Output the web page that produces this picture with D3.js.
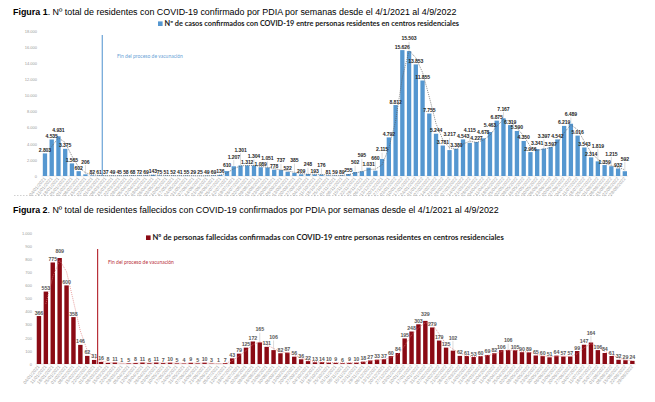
<!DOCTYPE html>
<html><head><meta charset="utf-8">
<script src="https://cdn.jsdelivr.net/npm/d3@7"></script>
<style>body{margin:0;background:#fff}svg{display:block}</style>
</head><body>
<script>
const weeks = ["04/01/2021","11/01/2021","18/01/2021","25/01/2021","01/02/2021","08/02/2021","15/02/2021","22/02/2021","01/03/2021","08/03/2021","15/03/2021","22/03/2021","29/03/2021","05/04/2021","12/04/2021","19/04/2021","26/04/2021","03/05/2021","10/05/2021","17/05/2021","24/05/2021","31/05/2021","07/06/2021","14/06/2021","21/06/2021","28/06/2021","05/07/2021","12/07/2021","19/07/2021","26/07/2021","02/08/2021","09/08/2021","16/08/2021","23/08/2021","30/08/2021","06/09/2021","13/09/2021","20/09/2021","27/09/2021","04/10/2021","11/10/2021","18/10/2021","25/10/2021","01/11/2021","08/11/2021","15/11/2021","22/11/2021","29/11/2021","06/12/2021","13/12/2021","20/12/2021","27/12/2021","03/01/2022","10/01/2022","17/01/2022","24/01/2022","31/01/2022","07/02/2022","14/02/2022","21/02/2022","28/02/2022","07/03/2022","14/03/2022","21/03/2022","28/03/2022","04/04/2022","11/04/2022","18/04/2022","25/04/2022","02/05/2022","09/05/2022","16/05/2022","23/05/2022","30/05/2022","06/06/2022","13/06/2022","20/06/2022","27/06/2022","04/07/2022","11/07/2022","18/07/2022","25/07/2022","01/08/2022","08/08/2022","15/08/2022","22/08/2022","29/08/2022"];

const cases = [2803,4535,4931,3375,1565,602,206,82,61,37,49,45,58,68,72,69,143,75,51,52,41,55,29,25,49,69,136,610,1207,1301,1312,1304,1089,1051,778,737,522,385,209,248,193,176,81,59,89,255,502,595,1031,660,2115,4792,8812,15626,15503,13853,11855,7755,5244,3781,3217,3380,4543,4115,4227,4678,5463,6875,7167,6319,5590,4350,2966,3341,3397,3597,4542,6219,6489,5016,3543,2314,1819,1359,1215,932,592];

const deaths = [366,553,775,809,600,358,146,62,31,16,8,11,1,5,8,11,6,11,7,10,5,4,9,5,10,3,1,7,43,79,125,172,165,131,106,82,87,56,36,22,13,14,10,9,6,9,10,18,27,33,37,60,84,195,248,303,329,279,179,125,102,62,61,53,60,69,82,106,106,105,90,89,65,60,51,64,57,57,99,147,164,106,84,61,32,29,24];

const casesTicks = [0,2000,4000,6000,8000,10000,12000,14000,16000,18000];
const deathsTicks = [0,100,200,300,400,500,600,700,800,900,1000];
const vaccinationEndIndex = 9; // line drawn between week 9 and week 10

const title1 = ["Figura 1", ". Nº total de residentes con COVID-19 confirmado por PDIA por semanas desde el 4/1/2021 al 4/9/2022"];
const title2 = ["Figura 2", ". Nº total de residentes fallecidos con COVID-19 confirmados por PDIA por semanas desde el 4/1/2021 al 4/9/2022"];
const legend1 = "Nº de casos confirmados con COVID-19 entre personas residentes en centros residenciales";
const legend2 = "Nº de personas fallecidas confirmadas con COVID-19 entre personas residentes en centros residenciales";
const vaccText = "Fin del proceso de vacunación";

const W = 655, H = 402;
const svg = d3.select("body").append("svg").attr("width", W).attr("height", H);

const fmt = d3.formatLocale({decimal: ",", thousands: ".", grouping: [3], currency: ["", "€"]}).format(",d");

function fitText(sel, target) {
  const len = sel.node().getComputedTextLength();
  const fs = parseFloat(sel.attr("font-size"));
  sel.attr("font-size", fs * target / len);
}

function title(parts, x, y, width) {
  const t = svg.append("text").attr("x", x).attr("y", y)
    .attr("font-family", "Liberation Sans, Arial, sans-serif").attr("font-size", 9).attr("fill", "#000");
  t.append("tspan").attr("font-weight", "bold").text(parts[0]);
  t.append("tspan").text(parts[1]);
  fitText(t, width);
}

function legend(text, x, y, width, color) {
  svg.append("rect").attr("x", x).attr("y", y - 4.6).attr("width", 4.6).attr("height", 4.6).attr("fill", color);
  const t = svg.append("text").attr("x", x + 6.5).attr("y", y)
    .attr("font-family", "Lato, Open Sans, sans-serif").attr("font-weight", "bold")
    .attr("font-size", 6.5).attr("fill", "#1a1a1a").text(text);
  fitText(t, width);
}

function chart(cfg) {
  const g = svg.append("g");
  const x = d3.scaleBand().domain(d3.range(cfg.data.length)).range(cfg.xr).paddingInner(0.36).paddingOuter(0.18);
  const y = d3.scaleLinear().domain(cfg.yd).range(cfg.yr);

  // y axis labels
  const ya = d3.axisLeft(y).tickValues(cfg.ticks).tickFormat(fmt).tickSize(0).tickPadding(0);
  const yg = g.append("g").attr("transform", `translate(${cfg.yLabelX},0)`).call(ya);
  yg.select(".domain").remove();
  yg.selectAll("text").attr("font-size", 4).attr("fill", "#9a9a9a").attr("font-family", "Liberation Sans, Arial, sans-serif");

  // baseline
  g.append("line").attr("x1", cfg.xr[0]).attr("x2", cfg.xr[1]).attr("y1", y(0)).attr("y2", y(0))
    .attr("stroke", "#d9d9d9").attr("stroke-width", 0.6);

  // x axis labels
  const xa = d3.axisBottom(x).tickFormat(i => weeks[i]).tickSize(0).tickPadding(0);
  const xg = g.append("g").attr("transform", `translate(0,${y(0) + 2})`).call(xa);
  xg.select(".domain").remove();
  xg.selectAll("text").attr("font-size", 4.6).attr("fill", "#a6a6a6")
    .attr("font-family", "Liberation Sans, Arial, sans-serif")
    .attr("text-anchor", "end").attr("dy", "0.3em").attr("transform", "rotate(-50)");

  // bars
  g.selectAll("rect.bar").data(cfg.data).join("rect").attr("class", "bar")
    .attr("x", (d, i) => x(i)).attr("width", x.bandwidth())
    .attr("y", d => y(d)).attr("height", d => y(0) - y(d)).attr("fill", cfg.color);

  // 2-period moving average trendline (dotted)
  const ma = cfg.data.map((d, i) => i === 0 ? null : (d + cfg.data[i - 1]) / 2);
  const line = d3.line().defined(d => d !== null).x((d, i) => x(i) + x.bandwidth() / 2).y(d => y(d));
  g.append("path").datum(ma).attr("d", line).attr("fill", "none")
    .attr("stroke", cfg.maColor).attr("stroke-width", 0.7).attr("stroke-dasharray", "1,1");

  // vaccination line
  const vx = (x(cfg.vacc - 1) + x.bandwidth() + x(cfg.vacc)) / 2;
  g.append("line").attr("x1", vx).attr("x2", vx).attr("y1", cfg.vaccTop).attr("y2", y(0))
    .attr("stroke", cfg.vaccColor).attr("stroke-width", 1.2);
  g.append("text").attr("x", cfg.vaccTextX).attr("y", cfg.vaccTextY).attr("font-size", 5)
    .attr("font-family", "Lato, Open Sans, sans-serif").attr("fill", cfg.vaccColor).text(vaccText);

  // data labels with simple collision avoidance (using real text boxes)
  const placed = [];
  const fs = cfg.labelSize;
  cfg.data.forEach((v, i) => {
    const cx = x(i) + x.bandwidth() / 2;
    const base = y(v) - 1.5;
    const t = g.append("text").attr("x", cx).attr("y", base).attr("text-anchor", "middle")
      .attr("font-size", fs).attr("font-weight", cfg.labelWeight).attr("letter-spacing", -0.1)
      .attr("font-family", "Liberation Sans, Arial, sans-serif").attr("fill", cfg.labelColor).text(fmt(v));
    const bb = t.node().getBBox();
    const up = base - bb.y, down = bb.y + bb.height - base;
    let ly = base, tries = 0;
    const box = yy => ({x0: bb.x + 0.25, x1: bb.x + bb.width - 0.25, y0: yy - up + 0.3, y1: yy + down});
    const hit = b => placed.some(p => b.x0 < p.x1 && b.x1 > p.x0 && b.y0 < p.y1 && b.y1 > p.y0);
    while (hit(box(ly)) && tries < 10) { ly -= fs * 0.6; tries++; }
    t.attr("y", ly);
    placed.push(box(ly));
    if (ly < base - fs) {
      g.append("line").attr("x1", cx).attr("x2", cx).attr("y1", ly + down + 0.4).attr("y2", y(v) - 0.5)
        .attr("stroke", "#a6a6a6").attr("stroke-width", 0.4);
    }
  });
}

title(title1, 13, 15, 444);
legend(legend1, 158, 26, 295, "#5597d0");
chart({data: cases, xr: [41.6, 628.2], yd: [0, 18000], yr: [176, 31], ticks: casesTicks, yLabelX: 37,
  color: "#5597d0", maColor: "#5a5a5a", vacc: vaccinationEndIndex, vaccTop: 35, vaccColor: "#6aa3d6",
  vaccTextX: 117, vaccTextY: 58, labelSize: 5.1, labelWeight: "bold", labelColor: "#262626"});

svg.append("line").attr("x1", 14).attr("x2", 612).attr("y1", 195.5).attr("y2", 195.5)
  .attr("stroke", "#b0b0b0").attr("stroke-width", 0.6).attr("stroke-dasharray", "1.5,1.5");

title(title2, 13, 213, 487);
legend(legend2, 146, 240, 352, "#8b0a14");
chart({data: deaths, xr: [35.5, 635.8], yd: [0, 1000], yr: [364, 233], ticks: deathsTicks, yLabelX: 32,
  color: "#8b0a14", maColor: "#e07a7a", vacc: vaccinationEndIndex, vaccTop: 249, vaccColor: "#b8313a",
  vaccTextX: 108, vaccTextY: 264, labelSize: 5.3, labelWeight: "bold", labelColor: "#595959"});
</script>
</body></html>
